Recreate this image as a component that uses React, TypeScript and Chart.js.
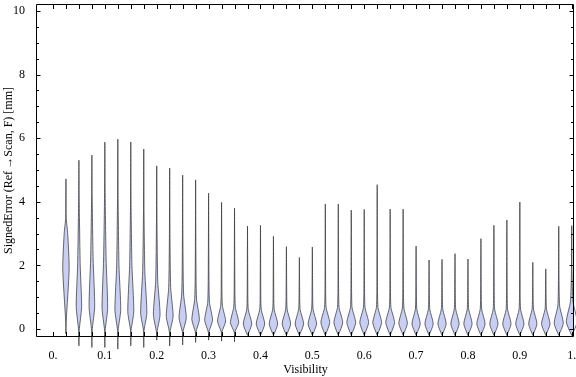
import React, { useEffect, useRef } from "react";
import { Chart, registerables } from "chart.js";
Chart.register(...registerables);

// Violin centres (Visibility)
const positions = [
  0.025, 0.05, 0.075, 0.1, 0.125, 0.15, 0.175, 0.2, 0.225, 0.25,
  0.275, 0.3, 0.325, 0.35, 0.375, 0.4, 0.425, 0.45, 0.475, 0.5,
  0.525, 0.55, 0.575, 0.6, 0.625, 0.65, 0.675, 0.7, 0.725, 0.75,
  0.775, 0.8, 0.825, 0.85, 0.875, 0.9, 0.925, 0.95, 0.975, 1.0,
];
// Max of each distribution (top of violin)
const vMax = [
  4.72, 5.31, 5.47, 5.88, 5.97, 5.88, 5.66, 5.13, 5.06, 4.84,
  4.69, 4.27, 3.98, 3.8, 3.24, 3.26, 2.92, 2.59, 2.25, 2.58,
  3.93, 3.93, 3.74, 3.76, 4.54, 3.77, 3.77, 2.61, 2.17, 2.19,
  2.37, 2.2, 2.84, 3.26, 3.43, 3.99, 2.1, 1.89, 3.23, 3.25,
];
// Min of each distribution (bottom tip)
const vMin = [
  -0.15, -0.53, -0.58, -0.58, -0.63, -0.53, -0.58, -0.35, -0.53, -0.5,
  -0.42, -0.35, -0.38, -0.4, -0.2, -0.2, -0.2, -0.2, -0.2, -0.2,
  -0.2, -0.2, -0.2, -0.2, -0.2, -0.2, -0.2, -0.2, -0.2, -0.2,
  -0.2, -0.2, -0.2, -0.2, -0.2, -0.2, -0.2, -0.2, -0.2, -0.2,
];
// Where the body of the violin starts (above the lower tail)
const vBase = [
  0.25, -0.05, -0.05, -0.05, -0.05, -0.05, -0.05, -0.1, -0.1, -0.1,
  -0.1, -0.1, -0.1, -0.1, -0.2, -0.2, -0.2, -0.2, -0.2, -0.2,
  -0.2, -0.2, -0.2, -0.2, -0.2, -0.2, -0.2, -0.2, -0.2, -0.2,
  -0.2, -0.2, -0.2, -0.2, -0.2, -0.2, -0.2, -0.2, -0.2, -0.2,
];
// Mode (widest point)
const vMode = [
  1.9, 0.7, 0.7, 0.65, 0.6, 0.55, 0.5, 0.45, 0.4, 0.35,
  0.3, 0.28, 0.25, 0.2, 0.16, 0.16, 0.16, 0.16, 0.16, 0.16,
  0.2, 0.2, 0.2, 0.2, 0.2, 0.2, 0.18, 0.16, 0.16, 0.16,
  0.16, 0.16, 0.16, 0.16, 0.16, 0.16, 0.16, 0.16, 0.18, 0.22,
];
// Density half-width at the mode (x units)
const vPeak = [
  0.0062, 0.0052, 0.0054, 0.0054, 0.0056, 0.0058, 0.006, 0.0064, 0.0066, 0.007,
  0.0073, 0.0076, 0.0078, 0.008, 0.0082, 0.0082, 0.0082, 0.0082, 0.0082, 0.0082,
  0.0085, 0.0085, 0.0085, 0.0085, 0.0085, 0.0085, 0.0082, 0.008, 0.008, 0.008,
  0.008, 0.008, 0.008, 0.008, 0.008, 0.008, 0.008, 0.0082, 0.0088, 0.0104,
];
// Shoulder of the body and its half-width
const vShoulder = [
  3.0, 2.0, 2.2, 2.2, 2.0, 2.0, 1.8, 1.5, 1.3, 1.1,
  0.95, 0.85, 0.75, 0.7, 0.62, 0.62, 0.62, 0.62, 0.62, 0.62,
  0.68, 0.68, 0.68, 0.68, 0.68, 0.68, 0.66, 0.62, 0.62, 0.62,
  0.62, 0.62, 0.62, 0.62, 0.62, 0.62, 0.62, 0.62, 0.72, 0.85,
];
const vShoulderW = [
  0.0034, 0.0025, 0.0024, 0.0024, 0.0022, 0.0022, 0.0021, 0.002, 0.0019, 0.0018,
  0.0017, 0.0016, 0.0015, 0.0015, 0.0014, 0.0014, 0.0014, 0.0014, 0.0014, 0.0014,
  0.0015, 0.0015, 0.0015, 0.0015, 0.0015, 0.0015, 0.0015, 0.0014, 0.0014, 0.0014,
  0.0014, 0.0014, 0.0014, 0.0014, 0.0014, 0.0014, 0.0014, 0.0014, 0.0018, 0.0026,
];
// Where the body thins into the upper tail
const vNeck = [
  3.5, 4.1, 4.2, 4.3, 4.2, 4.0, 3.7, 3.3, 3.0, 2.8,
  2.5, 2.2, 2.0, 1.8, 1.5, 1.5, 1.5, 1.4, 1.3, 1.4,
  1.6, 1.6, 1.6, 1.6, 1.7, 1.6, 1.6, 1.4, 1.3, 1.3,
  1.3, 1.3, 1.4, 1.5, 1.5, 1.6, 1.3, 1.2, 1.6, 1.8,
];

const xTickValues = [0, 0.1, 0.2, 0.3, 0.4, 0.5, 0.6, 0.7, 0.8, 0.9, 1.0];
const xTickLabels = ["0.", "0.1", "0.2", "0.3", "0.4", "0.5", "0.6", "0.7", "0.8", "0.9", "1."];
const yTickValues = [0, 2, 4, 6, 8, 10];
const yTickLabels = ["0", "2", "4", "6", "8", "10"];
const xFrameTicks = [0, ...positions];

const TAIL = 0.0005;
const FONT = "'Liberation Serif', 'Times New Roman', serif";

function outline(i: number) {
  const c = positions[i];
  const prof: [number, number][] = [];
  prof.push([vMin[i], 0]);
  if (vBase[i] > vMin[i] + 0.05) prof.push([vBase[i], TAIL]);
  prof.push([vMode[i], vPeak[i]]);
  prof.push([vShoulder[i], vShoulderW[i]]);
  prof.push([vNeck[i], TAIL]);
  prof.push([vMax[i], 0]);
  const left = prof.map(([y, w]) => ({ x: c - w, y }));
  const right = prof
    .slice(0, -1)
    .reverse()
    .map(([y, w]) => ({ x: c + w, y }));
  return [...left, ...right];
}

const framePlugin = {
  id: "frame",
  afterDatasetsDraw(chart: any) {
    const { ctx, chartArea: a, scales } = chart;
    const xs = scales.x;
    const ys = scales.y;
    const L = Math.round(a.left) - 0.5;
    const R = Math.round(a.right) - 0.5;
    const T = Math.round(a.top) + 0.5;
    const B = Math.round(a.bottom) - 0.5;
    ctx.save();
    ctx.strokeStyle = "#000";
    ctx.lineWidth = 1;
    ctx.beginPath();
    ctx.rect(L, T, R - L, B - T);
    ctx.stroke();
    ctx.beginPath();
    for (const v of xFrameTicks) {
      const px = Math.round(xs.getPixelForValue(v)) + 0.5;
      ctx.moveTo(px, B);
      ctx.lineTo(px, B - 4.5);
      ctx.moveTo(px, T);
      ctx.lineTo(px, T + 4.5);
    }
    for (let k = 0; k <= 20; k++) {
      const v = k * 0.5;
      const py = Math.round(ys.getPixelForValue(v)) + 0.5;
      const len = k % 4 === 0 ? 4 : 2.5;
      ctx.moveTo(L, py);
      ctx.lineTo(L + len, py);
      ctx.moveTo(R, py);
      ctx.lineTo(R - len, py);
    }
    ctx.stroke();
    ctx.restore();
  },
};

export default function App() {
  const ref = useRef<HTMLCanvasElement | null>(null);
  useEffect(() => {
    if (!ref.current) return;
    const datasets = positions.map((_, i) => ({
      data: outline(i),
      borderColor: "rgba(50,50,55,0.8)",
      borderWidth: 0.9,
      backgroundColor: "rgb(200,207,242)",
      fill: "shape",
      tension: 0.2,
      pointRadius: 0,
      clip: false,
    }));
    const chart = new Chart(ref.current, {
      type: "line",
      data: { datasets: datasets as any },
      plugins: [framePlugin],
      options: {
        animation: false,
        responsive: true,
        maintainAspectRatio: false,
        layout: { padding: { top: 4, right: 2, left: 0, bottom: 0 } },
        plugins: { legend: { display: false }, tooltip: { enabled: false } },
        scales: {
          x: {
            type: "linear",
            min: -0.0308,
            max: 1.0044,
            grid: { display: false },
            border: { display: false },
            afterBuildTicks: (s: any) => {
              s.ticks = xTickValues.map((v) => ({ value: v }));
            },
            afterFit: (s: any) => {
              s.height = 40;
              s.paddingLeft = 0;
              s.paddingRight = 0;
            },
            ticks: {
              autoSkip: false,
              maxRotation: 0,
              padding: 4,
              color: "#000",
              font: { family: FONT, size: 12 },
              callback: (_v: any, idx: number) => xTickLabels[idx],
            },
            title: {
              display: true,
              text: "Visibility",
              color: "#000",
              font: { family: FONT, size: 12 },
              padding: { top: 0, bottom: 0 },
            },
          },
          y: {
            type: "linear",
            min: -0.2516,
            max: 10.22,
            grid: { display: false },
            border: { display: false },
            afterBuildTicks: (s: any) => {
              s.ticks = yTickValues.map((v) => ({ value: v }));
            },
            afterFit: (s: any) => {
              s.width = 37;
              s.paddingTop = 0;
              s.paddingBottom = 0;
            },
            ticks: {
              autoSkip: false,
              padding: 4,
              color: "#000",
              font: { family: FONT, size: 12 },
              callback: (_v: any, idx: number) => yTickLabels[idx],
            },
            title: {
              display: true,
              text: "SignedError (Ref\u2009\u2192Scan, F) [mm]",
              color: "#000",
              font: { family: FONT, size: 12 },
              padding: { top: 2, bottom: 0 },
            },
          },
        },
      } as any,
    });
    return () => chart.destroy();
  }, []);
  return (
    <div style={{ position: "absolute", left: 0, top: 0, width: 576, height: 377 }}>
      <canvas ref={ref} />
    </div>
  );
}
